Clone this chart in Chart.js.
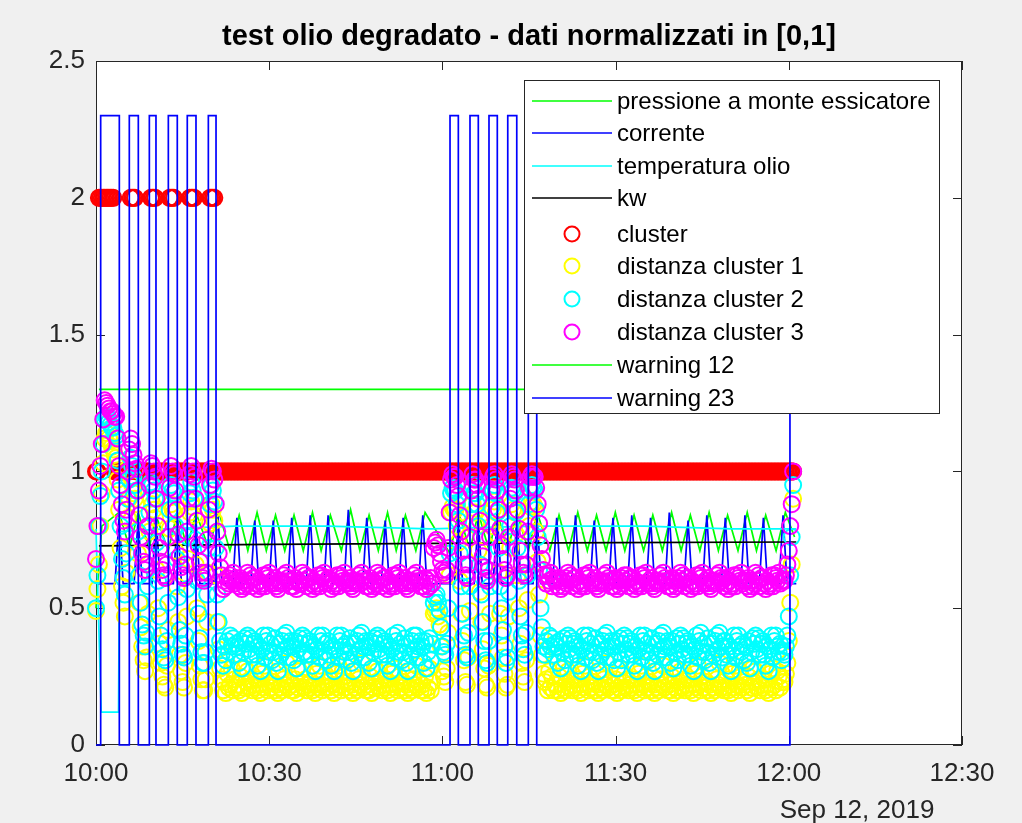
<!DOCTYPE html>
<html>
<head>
<meta charset="utf-8">
<title>test olio degradato</title>
<script src="https://cdn.jsdelivr.net/npm/chart.js@4.4.1/dist/chart.umd.min.js"></script>
<style>
  html, body { margin: 0; padding: 0; background: #f0f0f0; }
  canvas { display: block; }
</style>
</head>
<body>
<canvas id="chart" width="1022" height="823"></canvas>
<script>
// ---------------------------------------------------------------------------
// Axis definitions (minutes after 10:00, Sep 12, 2019)
// ---------------------------------------------------------------------------
const xTickMinutes = [0, 30, 60, 90, 120, 150];
const xTickLabels  = ['10:00', '10:30', '11:00', '11:30', '12:00', '12:30'];
const yTickValues  = [0, 0.5, 1, 1.5, 2, 2.5];
const yTickLabels  = ['0', '0.5', '1', '1.5', '2', '2.5'];
const dateLabel    = 'Sep 12, 2019';
const chartTitle   = 'test olio degradato - dati normalizzati in [0,1]';

// Logger period of the clustering output (minutes per sample, i.e. 15 s)
const SAMPLE_STEP_MIN = 0.25;

// ---------------------------------------------------------------------------
// Clustering output, one value per logged sample
// ---------------------------------------------------------------------------
const clusterLabel = [
  1,1, 2,2,2,2,2,2,2,2,2,2,2, 1,1,1,1,1,1,1,1,1,1,1, 2,2,2,2, 1,1,1,1,1,1,1,1,1,1, 2,2,2,2,
  1,1,1,1,1,1,1,1,1, 2,2,2,2, 1,1,1,1,1,1,1,1,1,1, 2,2,2,2, 1,1,1,1,1,1,1,1,1,1, 2,2,2,2, 1,1,1,1,1,
  1,1,1,1,1,1,1,1,1,1,1,1,1,1,1,1,1,1,1,1,1,1,
  1,1,1,1,1,1,1,1,1,1,1,1,1,1,1,1,1,1,1,1,1,1,
  1,1,1,1,1,1,1,1,1,1,1,1,1,1,1,1,1,1,1,1,1,1,
  1,1,1,1,1,1,1,1,1,1,1,1,1,1,1,1,1,1,1,1,1,1,
  1,1,1,1,1,1,1,1,1,1,1,1,1,1,1,1,1,1,1,1,1,1,
  1,1,1,1,1,1,1,1,1,1,1,1,1,1,1,1,1,1,1,1,1,1,
  1,1,1,1,1,1,1,1,1,1,1,1,1,1,1,1,1,1,1,1,1,1,
  1,1,1,1,1,1,1,1,1,1,1,1,1,1,1,1,1,1,1,1,1,1,
  1,1,1,1,1,1,1,1,1,1,1,1,1,1,1,1,1,1,1,1,1,1,
  1,1,1,1,1,1,1,1,1,1,1,1,1,1,1,1,1,1,1,1,1,1,
  1,1,1,1,1,1,1,1,1,1,1,1,1,1,1,1,1,1,1,1,1,1,
  1,1,1,1,1,1,1,1,1,1,1,1,1,1,1,1,1,1,1,1,1,1,
  1,1,1,1,1,1,1,1,1,1,1,1,1,1,1,1,1,1,1,1,1,1,
  1,1,1,1,1,1,1,1,1,1,1,1,1,1,1,1,1,1,1,1,1,1,
  1,1,1,1,1,1,1,1,1,1,1,1,1,1,1,1,1,1,1,1,1,1,
  1,1,1,1,1,1,1,1,1,1,1,1,1,1,1,1,1,1,1,1,1,1,
  1,1,1,1,1,1,1,1,1,1,1,1,1,1,1,1,1,1,1,1,1,1,
  1,1,1,1,1,1,1,1,1,1,1,1,1,1,1,1,1,1,1,1,1,1
];

const distCluster1 = [
  // 10:00 - 10:22 start-up
  .49,.57,.66,.80,.92,1.03,1.12,1.14,1.15,1.12,1.11,1.09,1.08,1.06,1.05,.97,.86,.72,.58,.52,.47,.63,.83,.90,
  .98,.95,.92,.90,.88,.70,.52,.43,.36,.31,.27,.32,.48,.78,
  .90,.88,.86,.83,.64,.50,.37,.30,.25,.22,.21,.29,.42,
  .79,.88,.86,.85,.71,.58,.45,.33,.27,.23,.21,.30,.47,.68,
  .85,.89,.87,.84,.66,.50,.38,.29,.24,.20,.20,.24,.45,.63,
  .81,.88,.86,.82,.62,.45,.35,.28,.24,
  // steady running
  .20,.23,.19,.26,.21,.22,.28,.20,.24,.21,
  .22,.20,.25,.19,.21,.28,.23,.27,.21,.24,.20,.22,
  .21,.24,.20,.22,.19,.26,.21,.29,.22,.20,.25,.21,.23,
  .23,.20,.22,.19,.27,.21,.20,.24,.22,.30,.21,.23,.20,
  .22,.20,.24,.19,.21,.27,.23,.28,.21,.24,.20,.22,
  .21,.23,.20,.22,.19,.26,.21,.29,.22,.20,.25,.21,.23,
  .21,.24,.20,.22,.19,.26,.21,.29,.22,.20,.27,.25,.21,.23,
  .23,.20,.22,.19,.27,.21,.20,.24,.22,.30,.21,.23,.20,
  .22,.20,.25,.19,.21,.28,.23,.27,.21,.24,.20,.22,
  .21,.24,.20,.22,.19,.26,.21,.28,.22,.20,.25,.21,.23,
  .23,.20,.22,.19,.27,.21,.20,.24,.22,.29,.21,.23,.20,
  .22,.20,.25,.19,.21,.28,.20,.23,
  // 10:58 - 11:18 disturbance
  .48,.49,.50,.47,.44,.36,.27,.25,.23,.28,
  .41,.62,.85,.87,.86,.86,.80,.74,.60,.48,
  .38,.31,.23,.22,.32,.49,.81,.88,.85,.85,
  .80,.71,.56,.45,.35,.28,.22,.21,.29,.48,
  .80,.86,.89,.85,.77,.63,.48,.40,.32,.26,
  .21,.22,.47,.72,.88,.86,.85,.77,.62,.50,
  .37,.30,.25,.23,.31,.53,.80,.87,.89,.88,
  .87,.78,.67,.55,.40,.33,.26,.23,
  // steady running
  .24,.20,.27,.21,.25,.20,.22,
  .22,.20,.25,.19,.21,.28,.20,.23,.27,.21,.24,.20,.22,
  .21,.24,.20,.22,.19,.26,.21,.29,.22,.20,.25,.21,.23,
  .23,.20,.22,.19,.27,.21,.20,.24,.22,.30,.21,.23,.20,
  .22,.20,.24,.19,.21,.28,.20,.23,.26,.21,.24,.20,.22,
  .21,.24,.20,.22,.19,.26,.21,.29,.22,.20,.25,.21,.23,
  .23,.20,.22,.19,.27,.21,.20,.24,.22,.29,.21,.23,.20,
  .22,.20,.25,.19,.21,.28,.20,.23,.27,.21,.24,.20,.22,
  .21,.24,.20,.22,.19,.26,.21,.29,.22,.20,.25,.21,.23,
  .23,.20,.22,.19,.27,.21,.20,.24,.22,.30,.21,.23,.20,
  .21,.24,.20,.22,.19,.26,.21,.29,.22,.20,.27,.25,.21,.23,
  .22,.20,.25,.19,.21,.28,.23,.27,.21,.24,.20,.22,
  .21,.24,.20,.22,.19,.26,.21,.28,.22,.20,.27,.25,.21,.23,
  // 12:00 shutdown
  .24,.23,.26,.30,.38,.52,.66,.90
];

const distCluster2 = [
  .50,.62,.80,.91,1.00,1.10,1.19,1.20,1.20,1.18,1.17,1.16,1.16,1.14,1.13,1.04,.93,.80,.68,.61,.55,.70,.90,.97,
  1.05,1.02,.98,.95,.93,.78,.62,.52,.44,.40,.36,.41,.58,.85,
  .96,.95,.93,.90,.74,.60,.47,.40,.35,.32,.31,.38,.52,
  .86,.95,.93,.92,.80,.68,.54,.42,.37,.33,.32,.40,.57,.76,
  .92,.96,.93,.90,.75,.60,.48,.39,.34,.30,.30,.34,.55,.72,
  .88,.95,.93,.89,.72,.55,.45,.38,.33,
  .29,.36,.31,.38,.34,.40,.36,.39,.33,.37,
  .36,.30,.38,.28,.34,.39,.37,.40,.35,.39,.33,.37,
  .38,.33,.29,.36,.27,.35,.40,.32,.38,.40,.34,.37,.31,
  .34,.39,.30,.27,.37,.33,.38,.40,.35,.41,.36,.32,.38,
  .36,.31,.38,.28,.35,.39,.37,.40,.34,.39,.33,.37,
  .38,.33,.29,.36,.27,.35,.40,.32,.38,.40,.34,.37,.31,
  .38,.33,.29,.36,.27,.35,.40,.32,.38,.40,.36,.34,.37,.31,
  .34,.39,.30,.27,.37,.33,.38,.40,.35,.41,.36,.32,.38,
  .36,.30,.38,.28,.34,.39,.37,.40,.35,.39,.33,.37,
  .38,.33,.29,.36,.27,.35,.40,.32,.38,.41,.34,.37,.31,
  .34,.39,.30,.27,.37,.33,.38,.40,.35,.40,.36,.32,.38,
  .36,.30,.38,.28,.34,.39,.31,.37,
  .52,.54,.55,.52,.49,.43,.36,.34,.33,.37,
  .50,.70,.92,.94,.93,.93,.88,.82,.70,.58,
  .48,.40,.33,.32,.41,.58,.88,.95,.92,.92,
  .88,.80,.66,.55,.45,.38,.31,.30,.38,.58,
  .87,.93,.95,.92,.85,.72,.58,.50,.42,.36,
  .30,.32,.56,.80,.94,.93,.92,.85,.72,.60,
  .47,.40,.35,.33,.41,.62,.88,.93,.95,.94,
  .93,.86,.76,.64,.50,.43,.36,.33,
  .38,.35,.40,.36,.39,.33,.37,
  .36,.30,.38,.28,.34,.39,.31,.37,.40,.35,.39,.33,.37,
  .38,.33,.29,.36,.27,.35,.40,.32,.38,.40,.34,.37,.31,
  .34,.39,.30,.27,.37,.33,.38,.40,.35,.41,.36,.32,.38,
  .36,.31,.38,.28,.34,.39,.31,.37,.40,.35,.39,.33,.37,
  .38,.33,.29,.36,.27,.35,.40,.32,.38,.40,.34,.37,.31,
  .34,.39,.30,.27,.37,.33,.38,.40,.35,.41,.36,.32,.38,
  .36,.30,.38,.28,.34,.39,.31,.37,.40,.35,.39,.33,.37,
  .38,.33,.29,.36,.27,.35,.40,.32,.38,.41,.34,.37,.31,
  .34,.39,.30,.27,.37,.33,.38,.40,.35,.41,.36,.32,.38,
  .38,.33,.29,.36,.27,.35,.40,.32,.38,.40,.36,.34,.37,.31,
  .36,.30,.38,.28,.34,.39,.37,.40,.35,.39,.33,.37,
  .38,.33,.29,.36,.27,.35,.40,.32,.38,.40,.36,.34,.37,.31,
  .34,.33,.36,.40,.47,.62,.76,.95
];

const distCluster3 = [
  .68,.80,.93,1.02,1.10,1.19,1.26,1.25,1.24,1.23,1.22,1.22,1.21,1.20,1.20,1.12,1.02,.95,.88,.82,.78,.86,1.00,1.08,
  1.12,1.10,1.06,1.03,1.01,.93,.84,.76,.70,.67,.64,.66,.80,.95,
  1.03,1.02,1.00,.98,.90,.80,.72,.67,.64,.62,.61,.66,.76,
  .94,1.02,1.00,.99,.93,.86,.77,.69,.65,.62,.61,.66,.78,.90,
  .99,1.02,1.00,.98,.90,.82,.73,.67,.63,.61,.60,.63,.75,.86,
  .95,1.01,1.00,.97,.88,.78,.70,.65,.62,
  .57,.60,.58,.61,.59,.62,.60,.63,.59,.61,
  .60,.58,.61,.57,.60,.58,.59,.63,.60,.62,.58,.61,
  .61,.59,.57,.60,.58,.59,.62,.58,.62,.61,.63,.59,.60,
  .59,.61,.58,.57,.60,.59,.60,.62,.59,.63,.61,.60,.58,
  .60,.58,.61,.57,.60,.59,.59,.63,.60,.62,.58,.61,
  .61,.59,.57,.60,.58,.59,.62,.58,.62,.61,.63,.59,.60,
  .61,.59,.57,.60,.58,.59,.62,.58,.62,.61,.60,.63,.59,.60,
  .59,.61,.58,.57,.60,.59,.60,.62,.59,.63,.61,.60,.58,
  .60,.58,.61,.57,.60,.58,.59,.63,.60,.62,.58,.61,
  .61,.59,.57,.60,.58,.59,.62,.58,.62,.61,.63,.59,.60,
  .59,.61,.58,.57,.60,.59,.60,.62,.59,.63,.61,.60,.58,
  .60,.58,.61,.57,.60,.58,.61,.59,
  .72,.74,.75,.73,.70,.67,.64,.63,.62,.64,
  .72,.85,.97,.99,.98,.98,.95,.91,.84,.78,
  .71,.66,.62,.61,.66,.76,.93,.99,.97,.97,
  .95,.90,.82,.76,.69,.65,.61,.60,.64,.76,
  .93,.98,.99,.97,.93,.86,.79,.73,.68,.64,
  .61,.62,.76,.90,.99,.98,.97,.93,.86,.79,
  .71,.66,.63,.62,.66,.78,.94,.98,.99,.98,
  .98,.94,.88,.81,.73,.68,.64,.62,
  .59,.62,.60,.63,.58,.61,.60,
  .60,.58,.61,.57,.60,.58,.61,.59,.63,.60,.62,.58,.61,
  .61,.59,.57,.60,.58,.59,.62,.58,.62,.61,.63,.59,.60,
  .59,.61,.58,.57,.60,.59,.60,.62,.59,.63,.61,.60,.58,
  .60,.58,.61,.57,.60,.58,.61,.59,.62,.60,.62,.58,.61,
  .61,.59,.57,.60,.58,.59,.62,.58,.62,.61,.63,.59,.60,
  .59,.61,.58,.57,.60,.59,.60,.62,.59,.63,.61,.60,.58,
  .60,.58,.61,.57,.60,.58,.61,.59,.63,.60,.62,.58,.61,
  .61,.59,.57,.60,.58,.59,.62,.58,.62,.61,.63,.59,.60,
  .59,.61,.58,.57,.60,.59,.60,.62,.59,.63,.61,.60,.58,
  .61,.59,.57,.60,.58,.59,.62,.58,.62,.61,.60,.63,.59,.60,
  .60,.58,.61,.57,.60,.58,.59,.63,.60,.62,.58,.61,
  .61,.59,.57,.60,.58,.59,.62,.58,.62,.61,.60,.63,.59,.60,
  .60,.60,.62,.66,.71,.80,.88,1.00
];

// ---------------------------------------------------------------------------
// Process signals (time in minutes, normalised value)
// ---------------------------------------------------------------------------
const pressureTime = [
  0, 1.0, 4.0, 5.8, 7.3, 9.2, 10.4, 12.5, 14.1, 15.8, 17.3, 19.5, 21.3,
  23.2, 24.8, 26.3, 27.9, 29.5, 31.1, 32.7, 34.3, 35.9, 37.5, 39.0, 40.6, 42.5, 44.1, 45.7, 47.3, 48.9, 50.5, 52.0, 53.6, 55.4, 57.0,
  61.3, 62.8, 64.8, 66.2, 68.1, 69.5, 71.3, 72.9, 74.9, 76.4,
  78.6, 80.2, 81.85, 83.45, 85.1, 86.7, 88.35, 89.95, 91.6, 93.2, 94.85, 96.45, 98.1, 99.7, 101.35, 102.95,
  104.6, 106.2, 107.8, 109.4, 111.2, 112.8, 114.4, 116.0, 117.8, 119.4, 121.0
];
const pressureValue = [
  .50, .80, .85, .72, .85, .72, .84, .71, .85, .72, .85, .72, .85,
  .71, .84, .71, .85, .71, .84, .71, .84, .71, .85, .71, .84, .71, .86, .71, .84, .71, .85, .71, .84, .71, .85,
  .70, .85, .71, .85, .71, .85, .71, .85, .71, .85,
  .71, .84, .71, .85, .71, .84, .71, .85, .71, .84, .71, .84, .71, .85, .71, .84,
  .71, .85, .71, .84, .71, .85, .71, .84, .71, .85, .76
];

const currentTime = [
  0,
  3.3, 4.0, 4.7,   6.6, 7.3, 8.0,   9.7, 10.4, 11.1,   13.4, 14.1, 14.8,   16.6, 17.3, 18.0,   20.4, 21.1, 21.8,
  23.7, 24.4, 25.1,   26.8, 27.5, 28.2,   30.0, 30.7, 31.4,   33.2, 33.9, 34.6,   36.4, 37.1, 37.8,
  39.5, 40.2, 40.9,   43.0, 43.7, 44.4,   46.2, 46.9, 47.6,   49.4, 50.1, 50.8,   52.5, 53.2, 53.9,
  55.9, 56.6, 57.3,
  62.1, 62.8, 63.5,   65.5, 66.2, 66.9,   68.8, 69.5, 70.2,   72.2, 72.9, 73.6,   75.7, 76.4, 77.1,
  79.1, 79.8, 80.5,   82.35, 83.05, 83.75,   85.6, 86.3, 87.0,   88.85, 89.55, 90.25,   92.1, 92.8, 93.5,
  95.35, 96.05, 96.75,   98.6, 99.3, 100.0,   101.85, 102.55, 103.25,   105.1, 105.8, 106.5,
  108.3, 109.0, 109.7,   111.7, 112.4, 113.1,   114.9, 115.6, 116.3,   118.3, 119.0, 119.7,
  121.3
];
const currentValue = [
  .59,
  .59, .84, .59,   .59, .83, .59,   .59, .85, .59,   .59, .84, .59,   .59, .83, .59,   .59, .85, .59,
  .59, .83, .59,   .59, .82, .59,   .59, .82, .59,   .59, .83, .59,   .59, .84, .59,
  .59, .84, .59,   .59, .86, .59,   .59, .83, .59,   .59, .82, .59,   .59, .83, .59,
  .59, .84, .59,
  .59, .84, .59,   .59, .83, .59,   .59, .85, .59,   .59, .84, .59,   .59, .83, .59,
  .59, .83, .59,   .59, .84, .59,   .59, .82, .59,   .59, .83, .59,   .59, .84, .59,
  .59, .83, .59,   .59, .85, .59,   .59, .82, .59,   .59, .84, .59,
  .59, .83, .59,   .59, .84, .59,   .59, .83, .59,   .59, .84, .59,
  .59
];

const oilTempTime  = [0, 0.9, 3.9, 4.1, 12, 24, 40, 58, 76, 95, 110, 121.3];
const oilTempValue = [.79, .12, .12, .78, .79, .80, .80, .79, .80, .80, .79, .79];

const kwTime  = [0.5, 30, 60, 90, 121.3];
const kwValue = [.728, .733, .737, .740, .742];

const warning12Time  = [0.5, 121.0];
const warning12Value = [1.3, 1.3];

const warning23Time = [
  0,
  0.81, 0.81, 4.04, 4.04,   5.77, 5.77, 7.33, 7.33,   9.24, 9.24, 10.39, 10.39,
  12.53, 12.53, 14.08, 14.08,   15.81, 15.81, 17.32, 17.32,   19.46, 19.46, 20.79, 20.79,
  61.32, 61.32, 62.76, 62.76,   64.78, 64.78, 66.22, 66.22,   68.07, 68.07, 69.51, 69.51,
  71.32, 71.32, 72.88, 72.88,   74.88, 74.88, 76.34, 76.34,
  120.2, 120.2, 121.3
];
const warning23Value = [
  0,
  0, 2.3, 2.3, 0,   0, 2.3, 2.3, 0,   0, 2.3, 2.3, 0,
  0, 2.3, 2.3, 0,   0, 2.3, 2.3, 0,   0, 2.3, 2.3, 0,
  0, 2.3, 2.3, 0,   0, 2.3, 2.3, 0,   0, 2.3, 2.3, 0,
  0, 2.3, 2.3, 0,   0, 2.3, 2.3, 0,
  0, 2.3, 2.3
];

// ---------------------------------------------------------------------------
// Chart construction
// ---------------------------------------------------------------------------
const FONT = '"Liberation Sans", Arial, Helvetica, sans-serif';
const AXIS_COLOR = '#262626';
const MARKER_RADIUS = 8;
const MARKER_WIDTH = 2;
const LINE_WIDTH = 1.7;

const nSamples = Math.min(clusterLabel.length, distCluster1.length, distCluster2.length, distCluster3.length);
const sampleTime = Array.from({ length: nSamples }, (_, i) => i * SAMPLE_STEP_MIN);

function toPoints(times, values) {
  const n = Math.min(times.length, values.length);
  const pts = [];
  for (let i = 0; i < n; i++) pts.push({ x: times[i], y: values[i] });
  return pts;
}

function lineSeries(label, times, values, color) {
  return {
    label, data: toPoints(times, values),
    showLine: true, borderColor: color, backgroundColor: color,
    borderWidth: LINE_WIDTH, pointRadius: 0, pointHoverRadius: 0, tension: 0, fill: false, clip: false
  };
}

function markerSeries(label, values, color) {
  return {
    label, data: toPoints(sampleTime, values),
    showLine: false, borderColor: color, backgroundColor: 'rgba(0,0,0,0)',
    pointStyle: 'circle', pointRadius: MARKER_RADIUS, pointHoverRadius: MARKER_RADIUS,
    pointBorderColor: color, pointBackgroundColor: 'rgba(0,0,0,0)', pointBorderWidth: MARKER_WIDTH,
    clip: false
  };
}

// Plot order: later entries are drawn on top
const datasets = [
  lineSeries('pressione a monte essicatore', pressureTime, pressureValue, '#00ff00'),
  lineSeries('corrente', currentTime, currentValue, '#0000ff'),
  lineSeries('temperatura olio', oilTempTime, oilTempValue, '#00ffff'),
  lineSeries('kw', kwTime, kwValue, '#000000'),
  markerSeries('cluster', clusterLabel, '#ff0000'),
  markerSeries('distanza cluster 1', distCluster1, '#ffff00'),
  markerSeries('distanza cluster 2', distCluster2, '#00ffff'),
  markerSeries('distanza cluster 3', distCluster3, '#ff00ff'),
  lineSeries('warning 12', warning12Time, warning12Value, '#00ff00'),
  lineSeries('warning 23', warning23Time, warning23Value, '#0000ff')
];
datasets.forEach((ds, k) => { ds.order = datasets.length - k; });

// Legend rows (pixel centres) inside the plot box
const LEGEND_BOX = { left: 524, top: 80, right: 940, bottom: 414 };
const LEGEND_ROWS = [101, 133, 166, 198, 234, 266, 299, 332, 365, 398];

const figurePlugin = {
  id: 'figure',
  beforeDraw(chart) {
    const { ctx, chartArea: a } = chart;
    ctx.save();
    ctx.fillStyle = '#f0f0f0';
    ctx.fillRect(0, 0, chart.width, chart.height);
    ctx.fillStyle = '#ffffff';
    ctx.fillRect(a.left, a.top, a.right - a.left, a.bottom - a.top);
    ctx.restore();
  },
  beforeDatasetsDraw(chart) {
    const { ctx, chartArea: a, scales } = chart;
    const tick = 9;
    ctx.save();
    ctx.strokeStyle = AXIS_COLOR;
    ctx.lineWidth = 1;
    ctx.strokeRect(a.left + 0.5, a.top + 0.5, a.right - a.left - 1, a.bottom - a.top - 1);
    ctx.beginPath();
    xTickMinutes.forEach(v => {
      const x = Math.round(scales.x.getPixelForValue(v)) + 0.5;
      ctx.moveTo(x, a.bottom); ctx.lineTo(x, a.bottom - tick);
      ctx.moveTo(x, a.top); ctx.lineTo(x, a.top + tick);
    });
    yTickValues.forEach(v => {
      const y = Math.round(scales.y.getPixelForValue(v)) + 0.5;
      ctx.moveTo(a.left, y); ctx.lineTo(a.left + tick, y);
      ctx.moveTo(a.right, y); ctx.lineTo(a.right - tick, y);
    });
    ctx.stroke();
    ctx.restore();
  },
  afterDatasetsDraw(chart) {
    const { ctx, chartArea: a } = chart;
    ctx.save();

    // legend
    const L = LEGEND_BOX;
    ctx.fillStyle = '#ffffff';
    ctx.fillRect(L.left, L.top, L.right - L.left, L.bottom - L.top);
    ctx.strokeStyle = AXIS_COLOR;
    ctx.lineWidth = 1;
    ctx.strokeRect(L.left + 0.5, L.top + 0.5, L.right - L.left - 1, L.bottom - L.top - 1);
    ctx.font = '24px ' + FONT;
    ctx.textAlign = 'left';
    ctx.textBaseline = 'middle';
    chart.data.datasets.forEach((ds, k) => {
      const y = LEGEND_ROWS[k];
      if (ds.showLine) {
        ctx.strokeStyle = ds.borderColor;
        ctx.lineWidth = LINE_WIDTH;
        ctx.beginPath();
        ctx.moveTo(532, y); ctx.lineTo(612, y);
        ctx.stroke();
      } else {
        ctx.strokeStyle = ds.pointBorderColor;
        ctx.lineWidth = MARKER_WIDTH;
        ctx.beginPath();
        ctx.arc(572, y, MARKER_RADIUS - 0.5, 0, Math.PI * 2);
        ctx.stroke();
      }
      ctx.fillStyle = '#000000';
      ctx.fillText(ds.label, 617, y + 1);
    });

    // title
    ctx.fillStyle = '#000000';
    ctx.font = 'bold 29px ' + FONT;
    ctx.textAlign = 'center';
    ctx.textBaseline = 'alphabetic';
    ctx.fillText(chartTitle, (a.left + a.right) / 2, 45);

    // date stamp under the time axis
    ctx.fillStyle = AXIS_COLOR;
    ctx.font = '26px ' + FONT;
    ctx.textBaseline = 'middle';
    ctx.fillText(dateLabel, 857, 811);

    ctx.restore();
  }
};

new Chart(document.getElementById('chart'), {
  type: 'scatter',
  data: { datasets },
  options: {
    responsive: false,
    devicePixelRatio: 1,
    animation: false,
    events: [],
    layout: { padding: { left: 0, right: 60, top: 61, bottom: 0 } },
    plugins: { legend: { display: false }, tooltip: { enabled: false }, title: { display: false } },
    scales: {
      x: {
        type: 'linear', min: 0, max: 150,
        afterBuildTicks: s => { s.ticks = xTickMinutes.map(v => ({ value: v })); },
        afterFit: s => { s.height = 78; },
        grid: { display: false, drawTicks: false },
        border: { display: false },
        ticks: {
          autoSkip: false, maxRotation: 0, padding: 13,
          color: AXIS_COLOR, font: { family: FONT, size: 26 },
          callback: v => xTickLabels[xTickMinutes.indexOf(v)]
        }
      },
      y: {
        type: 'linear', min: 0, max: 2.5,
        afterBuildTicks: s => { s.ticks = yTickValues.map(v => ({ value: v })); },
        afterFit: s => { s.width = 96; },
        grid: { display: false, drawTicks: false },
        border: { display: false },
        ticks: {
          padding: 11,
          color: AXIS_COLOR, font: { family: FONT, size: 26 },
          callback: v => yTickLabels[yTickValues.indexOf(v)]
        }
      }
    }
  },
  plugins: [figurePlugin]
});
</script>
</body>
</html>
